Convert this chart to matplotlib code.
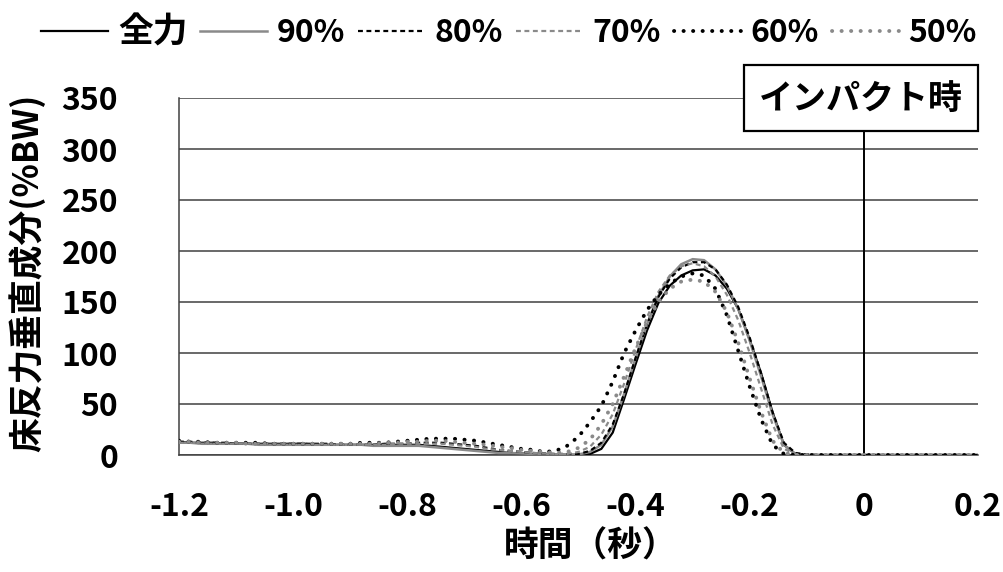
import numpy as np
import matplotlib
matplotlib.use("Agg")
import matplotlib.pyplot as plt

plt.rcParams['font.family'] = ['Noto Sans CJK JP', 'DejaVu Sans']
plt.rcParams['font.weight'] = 'bold'

# time axis (seconds relative to impact), 0.02 s steps
time = np.round(np.arange(-1.2, 0.2001, 0.02), 2)

full = [13, 12, 12, 12, 11, 11, 11, 11, 11, 11,
        11, 11, 10, 10, 10, 10, 10, 10, 10, 10,
        10, 10, 9, 8, 7, 6, 5, 4, 3, 2,
        1.5, 1, 0.5, 0.3, 0.2, 0, 1, 6, 22, 55,
        89, 122, 149, 166, 176, 181, 182, 176, 163, 143,
        113, 80, 42, 10, 1, 0, 0, 0, 0, 0,
        0, 0, 0, 0, 0, 0, 0, 0, 0, 0, 0]
p90 = [12, 12, 11, 11, 11, 11, 11, 10, 10, 10,
       10, 10, 10, 10, 10, 10, 10, 9, 9, 9,
       9, 9, 8, 7, 6, 5, 4, 3, 2, 2,
       1.5, 1, 1, 0.5, 0.5, 0.5, 3, 10, 28, 60,
       95, 128, 156, 175, 187, 192, 191, 182, 166, 143,
       112, 77, 40, 10, 1, 0, 0, 0, 0, 0,
       0, 0, 0, 0, 0, 0, 0, 0, 0, 0, 0]
p80 = [13, 13, 12, 12, 12, 11, 11, 11, 11, 11,
       11, 11, 11, 11, 10, 10, 10, 10, 11, 11,
       11, 12, 12, 12, 11, 10, 9, 7, 5, 4,
       3, 2, 1.5, 1, 1, 1, 4, 12, 30, 60,
       95, 128, 155, 173, 184, 189, 189, 182, 167, 145,
       115, 80, 42, 12, 2, 0.5, 0, 0, 0, 0,
       0, 0, 0, 0, 0, 0, 0, 0, 0, 0, 0]
p70 = [12, 12, 12, 11, 11, 11, 11, 11, 11, 11,
       10, 10, 10, 10, 10, 10, 10, 10, 10, 11,
       11, 11, 11, 11, 10, 9, 8, 6, 5, 4,
       3, 2, 1.5, 1, 1, 3, 8, 20, 40, 70,
       103, 135, 160, 176, 185, 188, 185, 175, 157, 132,
       100, 65, 30, 6, 1, 0, 0, 0, 0, 0,
       0, 0, 0, 0, 0, 0, 0, 0, 0, 0, 0]
p60 = [14, 13, 13, 12, 12, 12, 12, 12, 11, 11,
       11, 11, 11, 11, 11, 11, 12, 12, 12, 13,
       14, 15, 16, 16, 16, 15, 14, 12, 10, 8,
       6, 5, 3, 4, 9, 18, 32, 48, 72, 100,
       122, 142, 157, 168, 175, 178, 176, 163, 137, 102,
       67, 35, 10, 1, 0, 0, 0, 0, 0, 0,
       0, 0, 0, 0, 0, 0, 0, 0, 0, 0, 0]
p50 = [13, 13, 12, 12, 12, 12, 11, 11, 11, 11,
       11, 11, 11, 11, 11, 11, 11, 11, 12, 12,
       13, 13, 14, 14, 13, 12, 11, 10, 8, 7,
       5, 4, 3, 2, 3, 7, 15, 30, 50, 77,
       105, 130, 150, 163, 170, 172, 170, 160, 140, 110,
       75, 42, 14, 2, 0, 0, 0, 0, 0, 0,
       0, 0, 0, 0, 0, 0, 0, 0, 0, 0, 0]

labels = ['全力', '90%', '80%', '70%', '60%', '50%']
x_ticks = [-1.2, -1.0, -0.8, -0.6, -0.4, -0.2, 0, 0.2]
x_ticklabels = ['-1.2', '-1.0', '-0.8', '-0.6', '-0.4', '-0.2', '0', '0.2']
y_ticks = [0, 50, 100, 150, 200, 250, 300, 350]
impact_time = 0

BLACK = '#000000'
GRAY = '#8a8a8a'
FS = 23       # digits
FS_CJK = 25   # kanji / kana

styles = [
    dict(color=BLACK, lw=1.6, linestyle='-'),
    dict(color=GRAY, lw=1.8, linestyle='-'),
    dict(color=BLACK, lw=1.6, linestyle=(0, (2.2, 1.6))),
    dict(color=GRAY, lw=1.6, linestyle=(0, (2.2, 1.6))),
    dict(color=BLACK, lw=2.8, linestyle=(0, (0.05, 2.4)), dash_capstyle='round'),
    dict(color=GRAY, lw=2.8, linestyle=(0, (0.05, 2.4)), dash_capstyle='round'),
]

fig = plt.figure(figsize=(10.04, 5.72), dpi=100)
ax = fig.add_axes([179 / 1004, 1 - 455 / 572, (978 - 179) / 1004, (455 - 98) / 572])

series = [full, p90, p80, p70, p60, p50]
handles = []
for vals, lab, st in zip(series, labels, styles):
    h, = ax.plot(time, vals, label=lab, zorder=3, **st)
    handles.append(h)

ax.set_xlim(-1.2, 0.2)
ax.set_ylim(0, 350)
ax.set_xticks(x_ticks)
ax.set_xticklabels(x_ticklabels)
ax.set_yticks(y_ticks)
ax.yaxis.grid(True, color='#404040', lw=1.1)
ax.set_axisbelow(True)
ax.tick_params(axis='both', length=0, labelsize=FS)
ax.tick_params(axis='y', pad=44)
ax.tick_params(axis='x', pad=26)
for lab in ax.get_xticklabels() + ax.get_yticklabels():
    lab.set_fontweight('bold')
for side in ['top', 'right']:
    ax.spines[side].set_visible(False)
for side in ['left', 'bottom']:
    ax.spines[side].set_color('#404040')
    ax.spines[side].set_linewidth(1.1)

ax.set_xlabel('時間（秒）', fontsize=FS_CJK, fontweight='bold')
ax.set_ylabel('床反力垂直成分(%BW)', fontsize=FS_CJK, fontweight='bold')
ax.xaxis.set_label_coords(0.515, -0.205)
ax.yaxis.set_label_coords(-0.167, 0.51)

# impact marker: vertical line from the label box down to the axis
ax.axvline(impact_time, ymin=0, ymax=1.09, color=BLACK, lw=1.4, zorder=2,
           clip_on=False)
ax.annotate('インパクト時', xy=(impact_time, 350), xycoords='data',
            xytext=(861 / 1004, 1 - 98 / 572), textcoords='figure fraction',
            ha='center', va='center', fontsize=24.5, fontweight='bold',
            bbox=dict(boxstyle='square,pad=0.45', fc='white', ec=BLACK, lw=1.6),
            zorder=5)

leg = fig.legend(handles=handles, labels=labels, loc='center',
                 bbox_to_anchor=(0.507, 1 - 32 / 572), ncol=6, frameon=False,
                 handlelength=2.1, handletextpad=0.3, columnspacing=0.4,
                 prop=dict(weight='bold', size=FS))
leg.get_texts()[0].set_fontsize(FS_CJK)

fig.savefig('out.png', dpi=100)
